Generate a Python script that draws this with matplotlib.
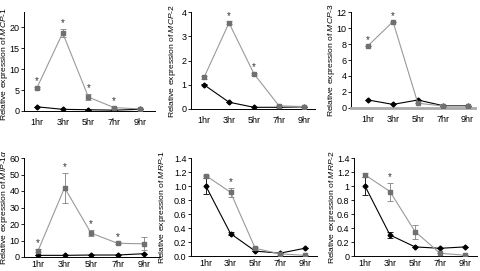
import matplotlib
matplotlib.use("Agg")
import matplotlib.pyplot as plt

plt.rcParams['font.family'] = ['Liberation Sans', 'DejaVu Sans']
plt.rcParams['mathtext.fontset'] = 'custom'
plt.rcParams['mathtext.rm'] = 'Liberation Sans'
plt.rcParams['mathtext.it'] = 'Liberation Sans:italic'

hours = ['1hr', '3hr', '5hr', '7hr', '9hr']

# MCP-1
mcp1_grey = [5.5, 18.6, 3.3, 0.8, 0.5]
mcp1_grey_err = [0.3, 1.0, 0.7, 0.2, 0.1]
mcp1_black = [1.0, 0.4, 0.3, 0.2, 0.4]
mcp1_black_err = [0, 0, 0, 0, 0]
mcp1_stars = [1, 1, 1, 1, 0]

# MCP-2
mcp2_grey = [1.3, 3.55, 1.45, 0.13, 0.1]
mcp2_grey_err = [0.06, 0.06, 0.03, 0.02, 0.02]
mcp2_black = [1.0, 0.28, 0.07, 0.07, 0.09]
mcp2_black_err = [0.03, 0, 0, 0, 0]
mcp2_stars = [0, 1, 1, 0, 0]

# MCP-3
mcp3_grey = [7.8, 10.8, 0.6, 0.25, 0.25]
mcp3_grey_err = [0, 0, 0, 0, 0]
mcp3_black = [1.0, 0.45, 1.0, 0.3, 0.3]
mcp3_black_err = [0, 0, 0, 0, 0]
mcp3_stars = [1, 1, 0, 0, 0]

# MIP-1a
mip1a_grey = [3.8, 42, 14.5, 8.3, 8.0]
mip1a_grey_err = [1.0, 9.0, 2.0, 0.5, 4.0]
mip1a_black = [1.0, 1.0, 1.2, 1.2, 2.0]
mip1a_black_err = [0, 0, 0, 0, 0]
mip1a_stars = [1, 1, 1, 1, 0]

# MRP-1
mrp1_grey = [1.15, 0.91, 0.11, 0.03, 0.01]
mrp1_grey_err = [0.01, 0.06, 0.02, 0.01, 0.0]
mrp1_black = [1.0, 0.32, 0.07, 0.04, 0.11]
mrp1_black_err = [0.11, 0.02, 0, 0, 0]
mrp1_stars = [0, 1, 0, 0, 0]

# MRP-2
mrp2_grey = [1.16, 0.92, 0.35, 0.04, 0.01]
mrp2_grey_err = [0.03, 0.13, 0.1, 0.0, 0.0]
mrp2_black = [1.0, 0.3, 0.13, 0.11, 0.13]
mrp2_black_err = [0.13, 0.04, 0, 0, 0]
mrp2_stars = [0, 1, 0, 0, 0]

W, H = 481, 271

# pixel box (left, top, right, bottom), label right edge px, label y, xlim
panels = [
    ((24, 12, 155, 111), 10, 0.47, (-0.5, 4.58), 'MCP', '1', mcp1_grey, mcp1_grey_err, mcp1_black, mcp1_black_err, mcp1_stars,
     23.6, [0, 5, 10, 15, 20], '%g'),
    ((191, 12, 315, 109), 178, 0.5, (-0.52, 4.44), 'MCP', '2', mcp2_grey, mcp2_grey_err, mcp2_black, mcp2_black_err, mcp2_stars,
     4, [0, 1, 2, 3, 4], '%g'),
    ((351, 12, 475, 108), 337, 0.5, (-0.69, 4.3), 'MCP', '3', mcp3_grey, mcp3_grey_err, mcp3_black, mcp3_black_err, mcp3_stars,
     12, [0, 2, 4, 6, 8, 10, 12], '%g'),
    ((24, 158, 160, 257), 10, 0.5, (-0.53, 4.6), 'MIP', r'1\alpha', mip1a_grey, mip1a_grey_err, mip1a_black, mip1a_black_err, mip1a_stars,
     60, [0, 10, 20, 30, 40, 50, 60], '%g'),
    ((191, 158, 317, 256), 168, 0.5, (-0.6, 4.5), 'MRP', '1', mrp1_grey, mrp1_grey_err, mrp1_black, mrp1_black_err, mrp1_stars,
     1.4, [0, 0.2, 0.4, 0.6, 0.8, 1.0, 1.2, 1.4], '%.1f'),
    ((354, 158, 477, 256), 338, 0.5, (-0.44, 4.48), 'MRP', '2', mrp2_grey, mrp2_grey_err, mrp2_black, mrp2_black_err, mrp2_stars,
     1.4, [0, 0.2, 0.4, 0.6, 0.8, 1.0, 1.2, 1.4], '%g'),
]

fig = plt.figure(figsize=(W / 100, H / 100), dpi=100)
x = list(range(len(hours)))
grey = '#9a9a9a'

for i_p, (box, lab_px, lab_y, xl, gene, num, g, ge, b, be, stars, ytop, yt, fmt) in enumerate(panels):
    l, t, r, bt = box
    ax = fig.add_axes([l / W, 1 - bt / H, (r - l) / W, (bt - t) / H])
    ax.errorbar(x, b, yerr=be, color='black', marker='D', ms=2.5, lw=0.8,
                capsize=2, elinewidth=0.6, capthick=0.6, zorder=3)
    ax.errorbar(x, g, yerr=ge, color=grey, marker='s', ms=3.2, lw=0.8,
                capsize=2, elinewidth=0.6, capthick=0.6, zorder=4,
                mfc='#707070', mec='#707070', ecolor='#808080')
    for i, s in enumerate(stars):
        if s:
            ax.annotate('*', (x[i], g[i] + ge[i]), xytext=(0, 0.5),
                        textcoords='offset points', ha='center', va='bottom',
                        fontsize=7, color='#333333')
    ax.set_xlim(*xl)
    ax.set_ylim(0, ytop)
    ax.set_yticks(yt)
    ax.set_yticklabels([fmt % v for v in yt])
    ax.set_xticks(x)
    ax.set_xticklabels(hours)
    ax.tick_params(axis='x', length=0, labelsize=6.5, pad=5 if i_p < 3 else 2.5)
    ax.tick_params(axis='y', length=2, width=0.6, labelsize=6.5, pad=1.2)
    for side in ['top', 'right']:
        ax.spines[side].set_visible(False)
    for side in ['left', 'bottom']:
        ax.spines[side].set_linewidth(0.7)
    if i_p == 2:
        ax.spines['bottom'].set_color('#aaaaaa')
        ax.spines['bottom'].set_linewidth(2)
    ax.set_ylabel(r'Relative expression of $\it{%s}$-$\it{%s}$' % (gene, num), fontsize=6.1)
    ax.yaxis.set_label_coords((lab_px - l) / (r - l), lab_y)

fig.savefig('out.png', dpi=100)
